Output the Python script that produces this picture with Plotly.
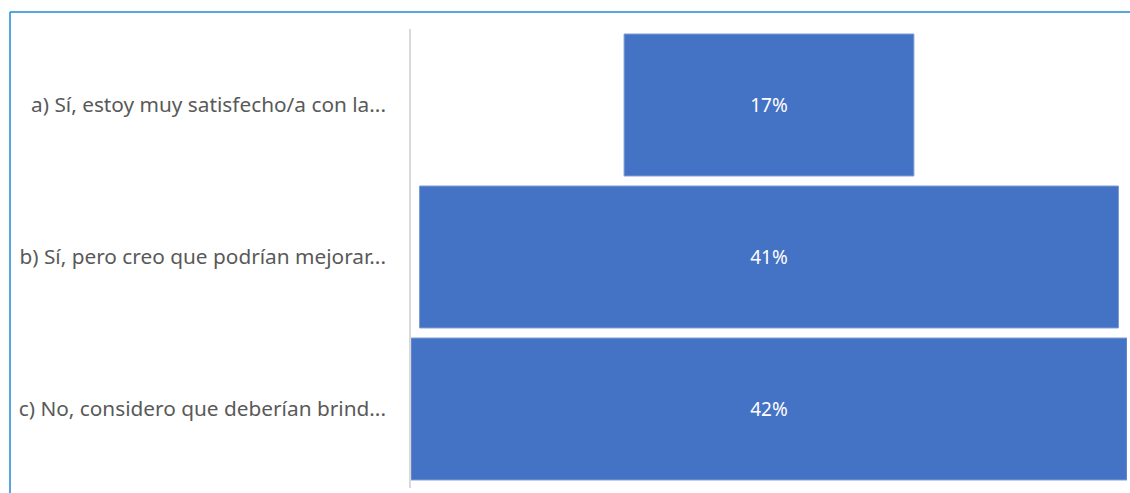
import plotly.graph_objects as go

# Survey answers (labels as shown, truncated) and share of responses in %
categories = [
    "a) Sí, estoy muy satisfecho/a con la...",
    "b) Sí, pero creo que podrían mejorar...",
    "c) No, considero que deberían brind...",
]
values = [17, 41, 42]

W, H = 1130, 493
L, R, T, B = 411, 3, 29, 8
plot_w = W - L - R
plot_h = H - T - B


def px_x(px):
    return (px - L) / plot_w


def px_y(py):
    return 1 - (py - T) / plot_h


fig = go.Figure(
    go.Funnel(
        y=categories,
        x=values,
        orientation="h",
        marker=dict(color="#4472C4", line=dict(color="#7D9BD6", width=1)),
        connector=dict(visible=False),
        texttemplate="%{x}%",
        textposition="inside",
        insidetextanchor="middle",
        textfont=dict(color="white", size=19, family="Noto Sans"),
        hoverinfo="skip",
    )
)

half = max(values) / 2
fig.update_layout(
    width=W,
    height=H,
    margin=dict(l=L, r=R, t=T, b=B, pad=0),
    paper_bgcolor="white",
    plot_bgcolor="white",
    showlegend=False,
    funnelgap=0.066,
    xaxis=dict(range=[-half, half], visible=False, fixedrange=True),
    yaxis=dict(
        showgrid=False,
        zeroline=False,
        showline=False,
        ticks="",
        ticklabelstandoff=24,
        tickfont=dict(family="Noto Sans", size=20.8, color="#595959"),
    ),
    shapes=[
        # category axis line
        dict(type="line", xref="paper", yref="paper",
             x0=px_x(410), x1=px_x(410), y0=px_y(29), y1=px_y(488),
             line=dict(color="#D9D9D9", width=2)),
        # frame around the chart
        dict(type="line", xref="paper", yref="paper",
             x0=px_x(10), x1=px_x(1131), y0=px_y(12), y1=px_y(12),
             line=dict(color="#1E88D8", width=1.5)),
        dict(type="line", xref="paper", yref="paper",
             x0=px_x(10), x1=px_x(10), y0=px_y(12), y1=px_y(494),
             line=dict(color="#1E88D8", width=1.5)),
    ],
)

fig.write_html("out.html")
